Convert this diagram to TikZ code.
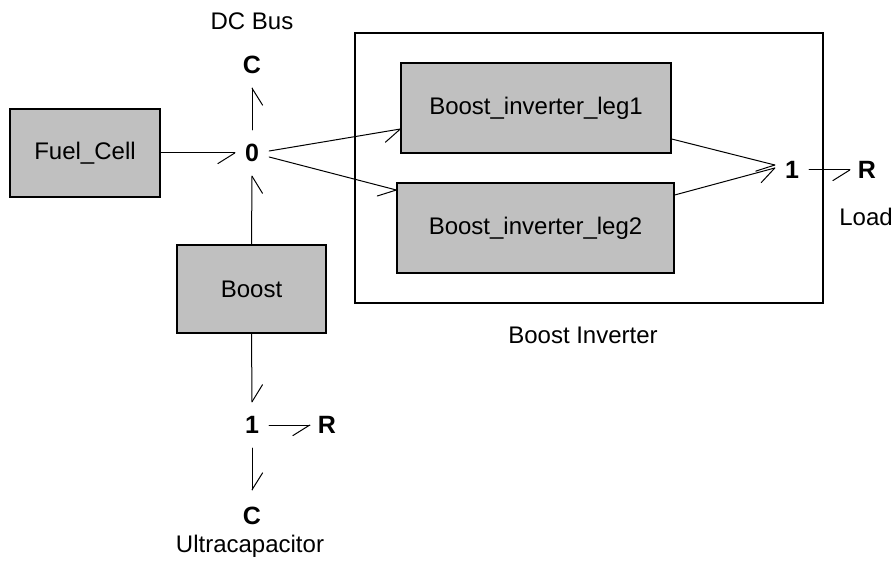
\documentclass[tikz,border=0pt]{standalone}
\usepackage{fontspec}
\setmainfont{Liberation Sans}
\usetikzlibrary{calc}
\definecolor{boxgray}{HTML}{C0C0C0}
% bond with half arrow: #1 start, #2 tip, #3 barb angle
\newcommand{\bondhalf}[3]{%
  \draw[bondln] #1 -- #2;
  \draw[bondln] #2 -- ($#2!20pt!#3:#1$);}
\begin{document}
\begin{tikzpicture}[x=1pt,y=-1pt,
  lbl/.style={font=\fontsize{24}{29}\selectfont, inner sep=0},
  block/.style={draw, line width=1.3pt, fill=boxgray, inner sep=0, font=\fontsize{24}{29}\selectfont},
  junc/.style={font=\fontsize{25}{30}\selectfont\bfseries, minimum width=34pt, minimum height=46pt, inner sep=0},
  bondln/.style={line width=1pt, line cap=round, line join=round}
]
\useasboundingbox (0,0) rectangle (893,561);
% frame of the boost inverter
\node[draw, line width=1.3pt, minimum width=468pt, minimum height=270pt, inner sep=0] (inv) at (589,168) {};
% blocks
\node[block, minimum width=150pt, minimum height=88pt] (fc) at (85,153) {Fuel\_Cell};
\node[block, minimum width=149pt, minimum height=88pt] (boost) at (251.5,289) {Boost};
\node[block, minimum width=270pt, minimum height=90pt] (leg1) at (536,108) {Boost\_inverter\_leg1};
\node[block, minimum width=277pt, minimum height=90pt] (leg2) at (535.5,228) {Boost\_inverter\_leg2};
% junctions and elements
\node[junc] (j0) at (252,153) {0};
\node[junc] (ctop) at (252,65) {C};
\node[junc] (j1r) at (792,170) {1};
\node[junc] (rr) at (867,170) {R};
\node[junc] (j1b) at (252,425) {1};
\node[junc] (rb) at (327,425) {R};
\node[junc] (cb) at (252,516) {C};
% labels
\node[lbl] (dcbus) at (252,21) {DC Bus};
\node[lbl] (load) at (866,217) {Load};
\node[lbl] (invlbl) at (583,335) {Boost Inverter};
\node[lbl] (ucap) at (250,546) {Ultracapacitor};
% bonds
\bondhalf{(fc.east)}{(j0.west)}{32}
\bondhalf{(j0.north)}{(ctop.south)}{32}
\bondhalf{(boost.north)}{(j0.south)}{32}
\bondhalf{([yshift=2pt]j0.east)}{([yshift=-21pt]leg1.west)}{32}
\bondhalf{([yshift=-4pt]j0.east)}{([yshift=38pt]leg2.west)}{32}
\bondhalf{([yshift=-31pt]leg1.east)}{([yshift=5pt]j1r.west)}{32}
\bondhalf{([yshift=33pt]leg2.east)}{([yshift=2pt]j1r.west)}{32}
\bondhalf{(j1r.east)}{(rr.west)}{32}
\bondhalf{(boost.south)}{(j1b.north)}{-32}
\bondhalf{(j1b.east)}{(rb.west)}{32}
\bondhalf{(j1b.south)}{([yshift=3pt]cb.north)}{-32}
\end{tikzpicture}
\end{document}
